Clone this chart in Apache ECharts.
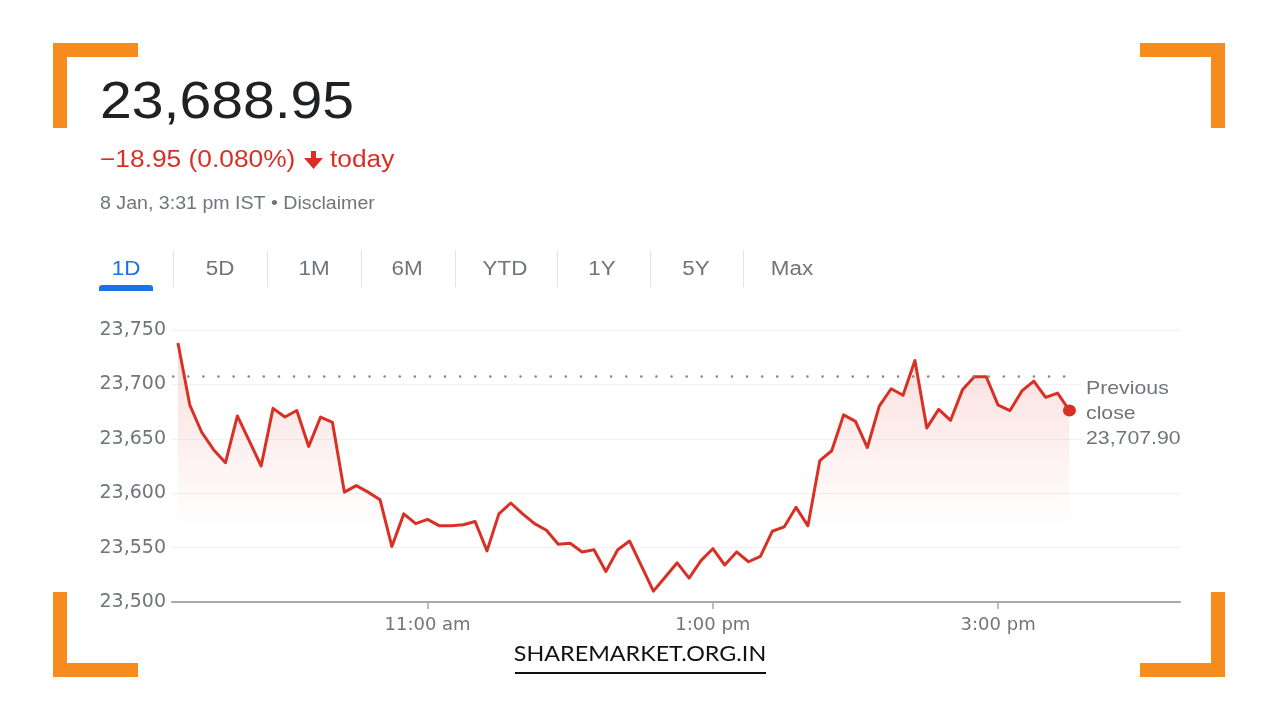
<!DOCTYPE html>
<html><head><meta charset="utf-8">
<script src="https://cdn.jsdelivr.net/npm/echarts@6/dist/echarts.min.js"></script>
<style>html,body{margin:0;padding:0;background:#fff}#c{width:1280px;height:720px}</style>
</head><body><div id="c"></div>
<script>
const times = ['09:15','09:20','09:25','09:30','09:35','09:40','09:45','09:50','09:55',
  '10:00','10:05','10:10','10:15','10:20','10:25','10:30','10:35','10:40','10:45','10:50','10:55',
  '11:00','11:05','11:10','11:15','11:20','11:25','11:30','11:35','11:40','11:45','11:50','11:55',
  '12:00','12:05','12:10','12:15','12:20','12:25','12:30','12:35','12:40','12:45','12:50','12:55',
  '13:00','13:05','13:10','13:15','13:20','13:25','13:30','13:35','13:40','13:45','13:50','13:55',
  '14:00','14:05','14:10','14:15','14:20','14:25','14:30','14:35','14:40','14:45','14:50','14:55',
  '15:00','15:05','15:10','15:15','15:20','15:25','15:30'];
const prices = [23738,23681,23656,23640,23628,23671,23648,23625,23678,
  23670,23676,23643,23670,23665,23601,23607,23601,23594,23551,23581,23572,
  23576,23570,23570,23571,23574,23547,23581,23591,23581,23572,23566,23553,
  23554,23546,23548,23528,23548,23556,23533,23510,23523,23536,23522,23538,
  23549,23534,23546,23537,23542,23565,23569,23587,23570,23630,23639,23672,
  23666,23642,23680,23696,23690,23722,23660,23677,23667,23695,23707,23707,
  23681,23676,23694,23703,23688,23692,23676];
const previousClose = 23707.90;
const yMin = 23500, yMax = 23750, yStep = 50;
const xTickTimes = ['11:00','13:00','15:00'];
const xTickLabels = ['11:00 am','1:00 pm','3:00 pm'];
const tabs = ['1D','5D','1M','6M','YTD','1Y','5Y','Max'];
const headline = '23,688.95';
const changeText = '\u221218.95 (0.080%)';
const todayText = 'today';
const dateLine = '8 Jan, 3:31 pm IST \u2022 Disclaimer';
const prevCloseLines = ['Previous', 'close', '23,707.90'];
const watermark = 'SHAREMARKET.ORG.IN';

const toMin = t => (+t.slice(0, 2)) * 60 + (+t.slice(3));
const seriesData = times.map((t, i) => [toMin(t), prices[i]]);
const lastPoint = seriesData[seriesData.length - 1];

const RED = '#d93025', GRAY = '#70757a', ORANGE = '#f78c1e', SX = 1.12;
const SANS = 'Arial, "Liberation Sans", sans-serif';

const graphics = [];
function txt(x, y, text, size, fill, opts) {
  graphics.push(Object.assign({
    type: 'text', x: x, y: y, scaleX: SX, silent: true, z: 10,
    style: { text: text, fontSize: size, fontFamily: SANS, fill: fill, align: 'left', verticalAlign: 'middle' }
  }, opts || {}));
}
// header
txt(100, 104, headline, 51, '#202124');
txt(100, 161, changeText, 23.5, RED);
graphics.push({ type: 'rect', shape: { x: 311, y: 151, width: 5, height: 9 }, style: { fill: RED } });
graphics.push({ type: 'polygon', shape: { points: [[304, 158], [323, 158], [313.5, 169]] }, style: { fill: RED } });
txt(330, 161, todayText, 23.5, RED);
txt(100, 204, dateLine, 17.5, GRAY);
// tabs
const tabCenters = [126, 220, 314, 407, 505, 602, 696, 792];
tabs.forEach((t, i) => {
  graphics.push({ type: 'text', x: tabCenters[i], y: 269, scaleX: SX,
    style: { text: t, fontSize: 20, fontFamily: SANS, fill: i === 0 ? '#1a73e8' : GRAY, align: 'center', verticalAlign: 'middle' } });
});
[173.5, 267.5, 361.5, 455.5, 557.5, 650.5, 743.5].forEach(x => {
  graphics.push({ type: 'line', shape: { x1: x, y1: 250, x2: x, y2: 287 }, style: { stroke: '#e3e3e3', lineWidth: 1 } });
});
graphics.push({ type: 'rect', shape: { x: 99, y: 285, width: 54, height: 6, r: [3, 3, 0, 0] }, style: { fill: '#1a73e8' } });
// previous close label (white backing so grid lines do not cross the text)
graphics.push({ type: 'rect', z: 9, shape: { x: 1082, y: 377, width: 102, height: 72 }, style: { fill: '#ffffff' } });
prevCloseLines.forEach((t, i) => txt(1086, 389 + i * 25, t, 19, GRAY));
// watermark
graphics.push({ type: 'text', x: 640, y: 654, scaleX: 1.06,
  style: { text: watermark, fontSize: 22, fontFamily: 'Lato, "Open Sans", sans-serif', fill: '#111', align: 'center', verticalAlign: 'middle' } });
graphics.push({ type: 'rect', shape: { x: 515, y: 672, width: 251, height: 2 }, style: { fill: '#111' } });
// orange corner brackets
const T = 14, L = 85;
[[53, 43, 1, 1], [1225, 43, -1, 1], [53, 677, 1, -1], [1225, 677, -1, -1]].forEach(([cx, cy, dx, dy]) => {
  graphics.push({ type: 'rect', shape: { x: dx > 0 ? cx : cx - L, y: dy > 0 ? cy : cy - T, width: L, height: T }, style: { fill: ORANGE } });
  graphics.push({ type: 'rect', shape: { x: dx > 0 ? cx : cx - T, y: dy > 0 ? cy : cy - L, width: T, height: L }, style: { fill: ORANGE } });
});

const xTickValues = xTickTimes.map(toMin);
const chart = echarts.init(document.getElementById('c'), null, { renderer: 'canvas' });
chart.setOption({
  animation: false,
  backgroundColor: '#ffffff',
  grid: { left: 172, right: 100, top: 330, bottom: 118, containLabel: false, outerBoundsMode: 'none' },
  xAxis: {
    type: 'value', min: 552.5, max: 976.5,
    splitLine: { show: false },
    axisLine: { show: true, lineStyle: { color: '#a8a8a8', width: 2 } },
    axisTick: { show: true, customValues: xTickValues, length: 7, lineStyle: { color: '#a8a8a8', width: 1.5 } },
    axisLabel: { customValues: xTickValues, margin: 14, color: GRAY, fontSize: 18, fontFamily: '"DejaVu Sans", sans-serif',
      formatter: v => xTickLabels[xTickValues.indexOf(v)] || '' }
  },
  yAxis: {
    type: 'value', min: yMin, max: yMax, interval: yStep, position: 'left',
    axisLine: { show: false }, axisTick: { show: false },
    splitLine: { show: true, lineStyle: { color: '#f1f1f1', width: 1 } },
    axisLabel: { margin: 6, color: GRAY, fontSize: 19, fontFamily: '"DejaVu Sans", sans-serif',
      formatter: v => v.toLocaleString('en-US') }
  },
  series: [{
    type: 'line', data: seriesData, showSymbol: false, symbol: 'none',
    lineStyle: { color: RED, width: 3, join: 'round' },
    areaStyle: {
      origin: 'start',
      color: new echarts.graphic.LinearGradient(0, 0, 0, 1, [
        { offset: 0, color: 'rgba(217,48,37,0.24)' },
        { offset: 0.4, color: 'rgba(217,48,37,0.10)' },
        { offset: 0.72, color: 'rgba(217,48,37,0)' },
        { offset: 1, color: 'rgba(217,48,37,0)' }
      ])
    },
    markLine: {
      silent: true, symbol: 'none', label: { show: false },
      lineStyle: { color: '#80868b', width: 2.5, type: [0.1, 15], cap: 'round' },
      data: [[{ coord: [553, previousClose] }, { coord: [932.5, previousClose] }]]
    },
    z: 3
  }, {
    type: 'scatter', data: [lastPoint], symbol: 'circle', symbolSize: [13, 12],
    itemStyle: { color: RED, opacity: 1 }, z: 4, silent: true
  }],
  graphic: graphics
});
</script>
</body></html>
